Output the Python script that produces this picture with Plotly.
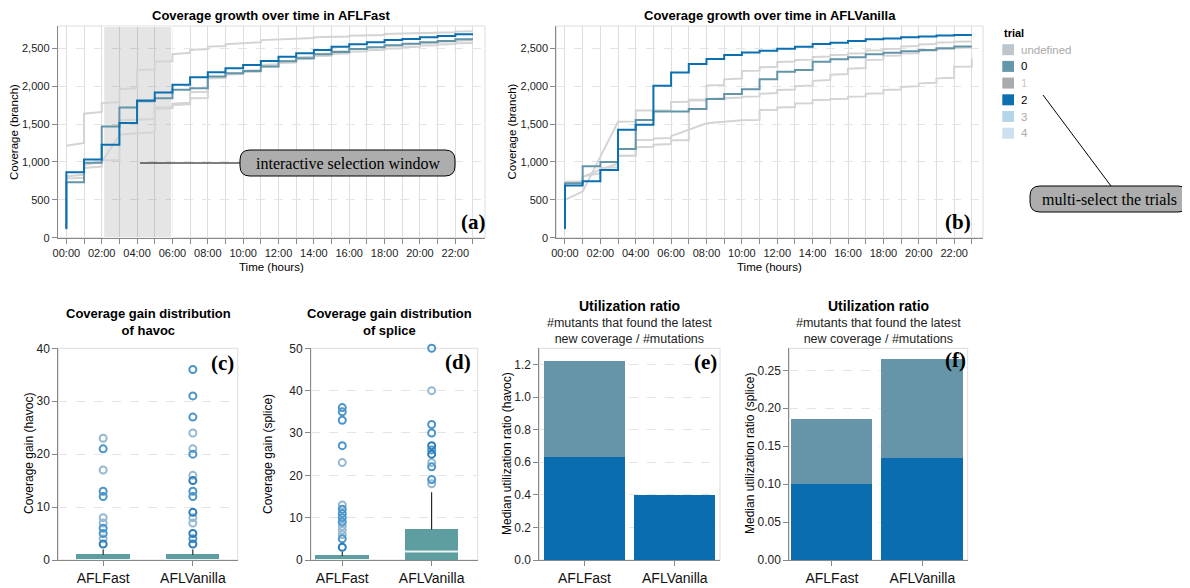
import plotly.graph_objects as go

W, H = 1190, 588
OX, OY = 8, 8          # default page margin of the html body
FW, FH = W - OX, H - OY

# ---------------- data ----------------
hours = list(range(24))
hour_labels = [f"{h:02d}:00" if h % 2 == 0 else "" for h in hours]

# coverage (branch) per hour, step-before: value at hour k covers (k-1, k]
afast_trial2 = [118, 864, 1031, 1228, 1513, 1811, 1917, 2018, 2118, 2184, 2237, 2280,
                2332, 2389, 2433, 2477, 2521, 2552, 2578, 2609, 2622, 2644, 2662, 2684]
afast_trial0 = [110, 732, 990, 1469, 1719, 1800, 1842, 1952, 1974, 2127, 2170, 2200,
                2260, 2330, 2370, 2420, 2450, 2490, 2515, 2540, 2560, 2580, 2595, 2618]
avan_trial2 = [118, 690, 745, 895, 1425, 1491, 2004, 2180, 2294, 2357, 2411, 2443,
               2467, 2495, 2520, 2556, 2574, 2596, 2618, 2630, 2644, 2657, 2670, 2675]
avan_trial0 = [110, 720, 943, 1000, 1171, 1555, 1667, 1667, 1700, 1829, 1897, 1958,
               2090, 2191, 2213, 2323, 2354, 2380, 2420, 2442, 2460, 2477, 2500, 2522]

# unselected trials: (hour, coverage) samples
afast_trial1 = [(0, 1215), (1, 1250), (1, 1636), (2, 1660), (2, 1776), (3, 1790), (3, 1960), (4, 1975),
                (4, 2215), (5, 2220), (5, 2325), (6, 2330), (6, 2421), (7, 2440), (7, 2478), (8, 2490),
                (8, 2522), (9, 2530), (9, 2553), (10, 2565), (10, 2570), (11, 2580), (11, 2608), (12, 2615),
                (12, 2625), (14, 2635), (14, 2645), (16, 2655), (16, 2665), (18, 2675), (18, 2688),
                (20, 2698), (20, 2705), (22, 2712), (22, 2720), (23, 2724)]
afast_trial3 = [(0, 810), (1, 830), (1, 960), (2, 1000), (3, 1350), (3, 1360), (4, 1380), (5, 1390),
                (5, 1720), (6, 1722), (6, 1750), (7, 1760), (7, 1840), (8, 1842), (8, 2100), (9, 2110),
                (9, 2150), (10, 2160), (10, 2205), (11, 2212), (11, 2280), (12, 2290), (12, 2330),
                (13, 2340), (13, 2380), (14, 2390), (14, 2420), (15, 2430), (15, 2460), (16, 2465),
                (16, 2490), (17, 2495), (17, 2510), (18, 2515), (18, 2530), (19, 2535), (19, 2550),
                (20, 2555), (20, 2565), (21, 2570), (21, 2585), (22, 2590), (22, 2600), (23, 2605)]
afast_trial4 = [(0, 780), (1, 790), (1, 920), (2, 940), (2, 1022), (3, 1025), (3, 1550), (4, 1555),
                (5, 1565), (5, 1700), (6, 1710), (6, 1770), (7, 1780), (7, 1920), (8, 1925), (8, 2120),
                (9, 2125), (9, 2160), (10, 2170), (10, 2185), (11, 2190), (11, 2255), (12, 2260),
                (12, 2305), (13, 2312), (13, 2355), (14, 2362), (14, 2395), (15, 2400), (15, 2425),
                (16, 2430), (16, 2455), (17, 2460), (17, 2475), (18, 2480), (18, 2495), (19, 2500),
                (19, 2515), (20, 2520), (20, 2535), (21, 2540), (21, 2550), (22, 2555), (22, 2565), (23, 2570)]

avan_trial1 = [(0, 500), (1, 610), (2, 1070), (3, 1520), (3, 1530), (4, 1535), (4, 1680), (6, 1680),
               (6, 1790), (7, 1795), (7, 1820), (8, 1825), (8, 2010), (9, 2015), (9, 2090), (10, 2100),
               (10, 2200), (11, 2205), (11, 2250), (12, 2255), (12, 2320), (13, 2325), (13, 2345),
               (14, 2350), (14, 2385), (15, 2390), (15, 2410), (16, 2415), (16, 2430), (17, 2435),
               (17, 2470), (18, 2475), (18, 2490), (19, 2495), (19, 2525), (20, 2530), (20, 2550),
               (21, 2555), (21, 2575), (22, 2580), (22, 2585), (23, 2590)]
avan_trial3 = [(0, 740), (1, 745), (1, 810), (2, 850), (2, 920), (3, 930), (3, 1080), (4, 1085),
               (4, 1195), (5, 1200), (5, 1228), (6, 1235), (6, 1285), (7, 1285), (7, 1810), (8, 1815),
               (8, 1830), (9, 1835), (9, 1840), (10, 1850), (10, 1861), (11, 1865), (11, 1900),
               (12, 1910), (12, 1949), (13, 1955), (13, 2000), (14, 2010), (14, 2070), (15, 2080),
               (15, 2150), (16, 2160), (16, 2230), (17, 2240), (17, 2345), (18, 2350), (18, 2400),
               (19, 2405), (19, 2430), (20, 2435), (20, 2465), (21, 2470), (21, 2490), (22, 2495),
               (22, 2505), (23, 2510)]
avan_trial4 = [(0, 735), (1, 735), (1, 800), (2, 900), (3, 980), (3, 1083), (4, 1085), (4, 1290),
               (5, 1294), (5, 1310), (6, 1316), (6, 1340), (8, 1510), (10, 1550), (11, 1555),
               (11, 1685), (12, 1690), (12, 1720), (13, 1725), (13, 1770), (14, 1775), (14, 1817),
               (15, 1820), (15, 1830), (16, 1835), (16, 1861), (17, 1865), (17, 1900), (18, 1905),
               (18, 1949), (19, 1955), (19, 1990), (20, 2000), (20, 2037), (21, 2045), (21, 2103),
               (22, 2110), (22, 2257), (23, 2260), (23, 2367)]

# interactive selection window (hours)
brush_start, brush_end = 2.1, 5.97

fuzzers = ["AFLFast", "AFLVanilla"]

# box plot statistics (coverage gain)
havoc_q1 = [0, 0]
havoc_median = [0, 0]
havoc_q3 = [1, 1]
havoc_upper = [2, 2]
splice_q1 = [0, 0]
splice_median = [0, 2]
splice_q3 = [1, 7.2]
splice_upper = [2, 16]

# outliers per fuzzer, grouped by how strongly they were drawn
havoc_out_strong = [[21, 13, 12, 6, 5], [36, 31, 27, 20, 13, 12, 4]]
havoc_out_light = [[23, 17, 8, 7, 4], [24, 21, 16, 8, 7]]
havoc_out_dark = [[3], [15, 9, 5, 3]]
splice_out_strong = [[36, 35, 33, 27, 12, 11, 10, 9, 5], [50, 32, 30, 26, 22, 19]]
splice_out_light = [[23, 13, 8, 7, 6], [40, 23, 18]]
splice_out_dark = [[3], [27, 25]]

# median utilization ratio, stacked by trial
util_havoc_trial2 = [0.63, 0.40]
util_havoc_trial0 = [0.59, 0.0]
util_splice_trial2 = [0.10, 0.134]
util_splice_trial0 = [0.085, 0.130]

legend_items = ["undefined", "0", "1", "2", "3", "4"]
legend_colors = ["#bcc6cc", "#6596aa", "#a9abad", "#0b6fb0", "#b5d6ea", "#cce0f0"]
legend_text_colors = ["#aaaaaa", "#000000", "#c8c8c8", "#000000", "#aaaaaa", "#aaaaaa"]

# ---------------- styles ----------------
BLUE = "#0b6fb0"
STEEL = "#6395a9"
GREY = "#d4d4d4"
TEAL = "#5f9ea0"
FONT = "Liberation Sans"
SERIF = "Liberation Serif"
COV_MAX = 2794


def px(x):
    return (x - OX) / FW


def py(y):
    return 1 - (y - OY) / FH


def xdom(x0, x1):
    return [px(x0), px(x1)]


def ydom(ytop, ybot):
    return [py(ybot), py(ytop)]


fig = go.Figure()


def add_coverage(xa, ya, greys, t0, t2, brush=None):
    if brush:
        b0, b1 = brush
        fig.add_trace(go.Scatter(x=[b0, b1, b1, b0, b0], y=[0, 0, COV_MAX, COV_MAX, 0], mode="lines",
                                 fill="toself", fillcolor="rgba(51,51,51,0.125)",
                                 line=dict(color="white", width=1.5), xaxis=xa, yaxis=ya, hoverinfo="skip"))
    for pairs in greys:
        fig.add_trace(go.Scatter(x=[p[0] for p in pairs], y=[p[1] for p in pairs], mode="lines",
                                 line=dict(color=GREY, width=2), xaxis=xa, yaxis=ya, hoverinfo="skip"))
    fig.add_trace(go.Scatter(x=hours, y=t0, mode="lines", line=dict(color=STEEL, width=2, shape="vh"),
                             xaxis=xa, yaxis=ya))
    fig.add_trace(go.Scatter(x=hours, y=t2, mode="lines", line=dict(color=BLUE, width=2, shape="vh"),
                             xaxis=xa, yaxis=ya))


add_coverage("x", "y", [afast_trial1, afast_trial3, afast_trial4], afast_trial0, afast_trial2,
             brush=(brush_start, brush_end))
add_coverage("x2", "y2", [avan_trial1, avan_trial3, avan_trial4], avan_trial0, avan_trial2)


def add_box(xa, ya, q1, med, q3, upper, strong, light, dark):
    cats = list(range(len(fuzzers)))
    wx, wy = [], []
    for i in cats:
        wx += [i, i, None]
        wy += [q3[i], upper[i], None]
    fig.add_trace(go.Scatter(x=wx, y=wy, mode="lines", line=dict(color="black", width=1),
                             xaxis=xa, yaxis=ya))
    fig.add_trace(go.Bar(x=cats, y=[b - a for a, b in zip(q1, q3)], base=q1, width=0.6,
                         marker=dict(color=TEAL, line=dict(width=0)), xaxis=xa, yaxis=ya))
    mx, my = [], []
    for i in cats:
        mx += [i - 0.3, i + 0.3, None]
        my += [med[i], med[i], None]
    fig.add_trace(go.Scatter(x=mx, y=my, mode="lines", line=dict(color="#e8f2f2", width=2),
                             xaxis=xa, yaxis=ya))
    for group, color in [(light, "#95b9d0"), (strong, "#4b95cb"), (dark, "#2b7cba")]:
        ox, oy = [], []
        for i in cats:
            ox += [i] * len(group[i])
            oy += group[i]
        fig.add_trace(go.Scatter(x=ox, y=oy, mode="markers",
                                 marker=dict(symbol="circle-open", size=7, color=color,
                                             line=dict(width=2, color=color)),
                                 xaxis=xa, yaxis=ya, cliponaxis=False))


add_box("x3", "y3", havoc_q1, havoc_median, havoc_q3, havoc_upper,
        havoc_out_strong, havoc_out_light, havoc_out_dark)
add_box("x4", "y4", splice_q1, splice_median, splice_q3, splice_upper,
        splice_out_strong, splice_out_light, splice_out_dark)


def add_util(xa, ya, t2, t0):
    cats = list(range(len(fuzzers)))
    fig.add_trace(go.Bar(x=cats, y=t2, width=0.9, marker=dict(color="#0a6daf", line=dict(width=0)),
                         xaxis=xa, yaxis=ya))
    fig.add_trace(go.Bar(x=cats, y=t0, base=t2, width=0.9,
                         marker=dict(color="#6694a8", line=dict(width=0)), xaxis=xa, yaxis=ya))


add_util("x5", "y5", util_havoc_trial2, util_havoc_trial0)
add_util("x6", "y6", util_splice_trial2, util_splice_trial0)

# ---------------- axes ----------------
base = dict(showline=True, linecolor="#888", linewidth=1, ticks="outside", ticklen=5, tickcolor="#888",
            tickwidth=1, zeroline=False, fixedrange=True, automargin=False,
            tickfont=dict(family=FONT, size=11, color="#222"))


def ax(**kw):
    d = dict(base)
    d.update(kw)
    return d


cov_ticks = [0, 500, 1000, 1500, 2000, 2500]
layout_axes = dict(
    xaxis=ax(domain=xdom(57.7, 485), range=[-0.49, 23.68], tickvals=hours, ticktext=hour_labels,
             showgrid=True, gridcolor="#dedede", gridwidth=1, anchor="y"),
    yaxis=ax(domain=ydom(26, 237.7), range=[0, COV_MAX], tickvals=cov_ticks, tickformat=",",
             showgrid=True, gridcolor="#e4e4e4", griddash="dash", anchor="x"),
    xaxis2=ax(domain=xdom(556.3, 983), range=[-0.49, 23.63], tickvals=hours, ticktext=hour_labels,
              showgrid=True, gridcolor="#dedede", gridwidth=1, anchor="y2"),
    yaxis2=ax(domain=ydom(26, 237.7), range=[0, COV_MAX], tickvals=cov_ticks, tickformat=",",
              showgrid=True, gridcolor="#e4e4e4", griddash="dash", anchor="x2"),
)
cat_font = dict(family=FONT, size=14, color="#111")
ytick_font = dict(family=FONT, size=12, color="#222")
bottom = [
    ("3", (58.3, 237.7), [-0.5, 1.5], [0, 40], [0, 10, 20, 30, 40], None),
    ("4", (311, 477.7), [-0.35, 1.515], [0, 50], [0, 10, 20, 30, 40, 50], None),
    ("5", (539.3, 720), [-0.5, 1.5], [0, 1.3], [0, 0.2, 0.4, 0.6, 0.8, 1.0, 1.2], ".1f"),
    ("6", (789.3, 967.7), [-0.47, 1.5], [0, 0.279], [0, 0.05, 0.10, 0.15, 0.20, 0.25], ".2f"),
]
for k, (x0, x1), xr, yr, yt, fmt in bottom:
    layout_axes["xaxis" + k] = ax(domain=xdom(x0, x1), range=xr, tickvals=[0, 1], ticktext=fuzzers,
                                  showgrid=False, tickfont=cat_font, anchor="y" + k)
    yd = dict(domain=ydom(348.3, 560), range=yr, tickvals=yt, showgrid=True, gridcolor="#e4e4e4",
              griddash="dash", anchor="x" + k, tickfont=ytick_font)
    if fmt:
        yd["tickformat"] = fmt
    layout_axes["yaxis" + k] = ax(**yd)

# ---------------- shapes ----------------
shapes = []
for k in ["", "2", "3", "4", "5", "6"]:
    shapes.append(dict(type="rect", xref=f"x{k} domain", yref=f"y{k} domain", x0=0, x1=1, y0=0, y1=1,
                       line=dict(color="#dddddd", width=1), layer="below"))


def rounded(x0, y0, x1, y1, r):
    return (f"M {px(x0 + r)},{py(y0)} L {px(x1 - r)},{py(y0)} Q {px(x1)},{py(y0)} {px(x1)},{py(y0 + r)} "
            f"L {px(x1)},{py(y1 - r)} Q {px(x1)},{py(y1)} {px(x1 - r)},{py(y1)} "
            f"L {px(x0 + r)},{py(y1)} Q {px(x0)},{py(y1)} {px(x0)},{py(y1 - r)} "
            f"L {px(x0)},{py(y0 + r)} Q {px(x0)},{py(y0)} {px(x0 + r)},{py(y0)} Z")


shapes.append(dict(type="line", xref="paper", yref="paper", x0=px(140), y0=py(163), x1=px(240), y1=py(163),
                   line=dict(color="black", width=1)))
shapes.append(dict(type="path", xref="paper", yref="paper", path=rounded(240, 150, 455, 176, 10),
                   fillcolor="#adadad", line=dict(color="black", width=1)))
shapes.append(dict(type="line", xref="paper", yref="paper", x0=px(1043), y0=py(95), x1=px(1111), y1=py(186),
                   line=dict(color="black", width=1)))
shapes.append(dict(type="path", xref="paper", yref="paper", path=rounded(1030, 186, 1188, 212, 10),
                   fillcolor="#adadad", line=dict(color="black", width=1)))
# legend swatches
for i, c in enumerate(legend_colors):
    yc = 49.7 + 16.7 * i
    shapes.append(dict(type="rect", xref="paper", yref="paper", x0=px(1002.3), x1=px(1014),
                       y0=py(yc + 5.5), y1=py(yc - 5.5), fillcolor=c, line=dict(width=0)))

# ---------------- annotations ----------------
ann = []


def text(x, y, s, size=11, color="#000", family=FONT, angle=0, xanchor="center", yanchor="middle", align="center"):
    ann.append(dict(x=px(x), y=py(y), xref="paper", yref="paper", text=s, showarrow=False,
                    font=dict(family=family, size=size, color=color), textangle=angle,
                    xanchor=xanchor, yanchor=yanchor, align=align))


text(271, 15.5, "<b>Coverage growth over time in AFLFast</b>", size=13)
text(769.5, 15.5, "<b>Coverage growth over time in AFLVanilla</b>", size=13)
text(271, 267, "Time (hours)", size=11.5)
text(769.5, 267, "Time (hours)", size=11.5)
text(14, 132, "Coverage (branch)", size=11.5, angle=-90)
text(511.5, 132, "Coverage (branch)", size=11.5, angle=-90)
text(347.5, 163.5, "interactive selection window", size=16, family=SERIF)
text(1109, 199.5, "multi-select the trials", size=16, family=SERIF)

text(148, 322.5, "<b>Coverage gain distribution<br>of havoc</b>", size=13)
text(389, 322.5, "<b>Coverage gain distribution<br>of splice</b>", size=13)
text(629.6, 306, "<b>Utilization ratio</b>", size=14)
text(629.6, 331, "#mutants that found the latest<br>new coverage / #mutations", size=12.5, color="#222")
text(878.5, 306, "<b>Utilization ratio</b>", size=14)
text(878.5, 331, "#mutants that found the latest<br>new coverage / #mutations", size=12.5, color="#222")
text(29, 454, "Coverage gain (havoc)", size=12, angle=-90)
text(268, 454, "Coverage gain (splice)", size=12, angle=-90)
text(507, 454, "Median utilization ratio (havoc)", size=12, angle=-90)
text(750, 454, "Median utilization ratio (splice)", size=12, angle=-90)

for lbl, x, y in [("(a)", 473, 222), ("(b)", 958, 222), ("(c)", 222, 363), ("(d)", 458, 362),
                  ("(e)", 705, 362), ("(f)", 955, 360)]:
    text(x, y, f"<b>{lbl}</b>", size=21, family=SERIF)

text(1002, 33, "<b>trial</b>", size=11, xanchor="left")
for i, (lab, tc) in enumerate(zip(legend_items, legend_text_colors)):
    text(1018.5, 49.7 + 16.7 * i, lab, size=11.5, color=tc, xanchor="left")

fig.update_layout(
    width=FW, height=FH, margin=dict(l=0, r=0, t=0, b=0),
    paper_bgcolor="white", plot_bgcolor="white",
    font=dict(family=FONT, size=11, color="#222"),
    showlegend=False, barmode="overlay", bargap=0,
    shapes=shapes, annotations=ann, **layout_axes,
)

fig.write_html("out.html")
